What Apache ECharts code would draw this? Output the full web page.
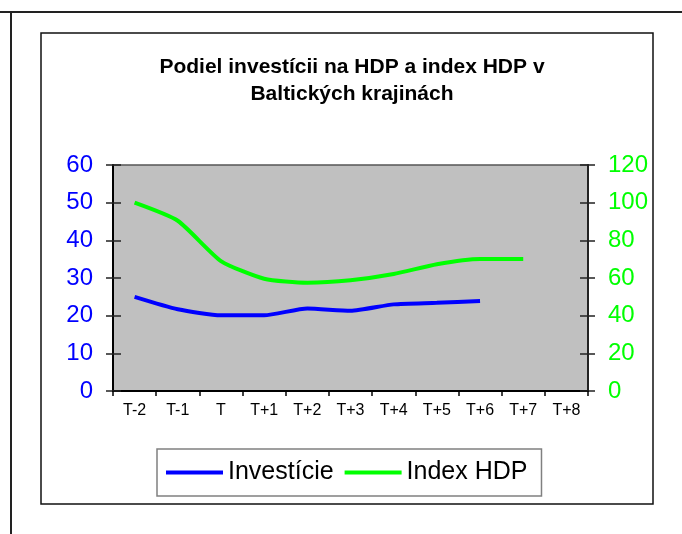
<!DOCTYPE html>
<html>
<head>
<meta charset="utf-8">
<script src="https://cdn.jsdelivr.net/npm/echarts@6/dist/echarts.min.js"></script>
<style>
  html, body { margin: 0; padding: 0; background: #fff; }
  #chart { width: 682px; height: 534px; }
</style>
</head>
<body>
<div id="chart"></div>
<script>
// hodnoty odčítané z grafu
const categories = ["T-2", "T-1", "T", "T+1", "T+2", "T+3", "T+4", "T+5", "T+6", "T+7", "T+8"];
const investicie = [25, 21.7, 20.1, 20.1, 21.9, 21.3, 23, 23.4, 23.9, null, null];
const indexHdp = [100, 90.4, 69, 59.6, 57.5, 58.8, 62.1, 67.3, 70.1, 70.1, null];
const leftTicks = { min: 0, max: 60, interval: 10 };
const rightTicks = { min: 0, max: 120, interval: 20 };

const font = "Liberation Sans, Arial, sans-serif";
const gridRect = { left: 113, right: 94, top: 165, bottom: 143 };

const myChart = echarts.init(document.getElementById("chart"));

// os bez popisov, len krátke čiarky dovnútra (Excel "cross" ticks)
function innerAxis(pos, ticks) {
  return {
    type: "value",
    gridIndex: 1,
    position: pos,
    ...ticks,
    axisLine: { show: false },
    axisLabel: { show: false },
    splitLine: { show: false },
    axisTick: { show: true, inside: true, length: 8, lineStyle: { color: "#222", width: 1.5 } }
  };
}

const option = {
  backgroundColor: "#fff",
  animation: false,
  title: {
    text: "Podiel investícii na HDP a index HDP v\nBaltických krajinách",
    left: 347,
    top: 49,
    textAlign: "center",
    textStyle: {
      fontFamily: font,
      fontWeight: "bold",
      fontSize: 21,
      lineHeight: 27,
      color: "#000"
    }
  },
  legend: {
    left: 157,
    top: 449,
    padding: [11, 14, 11, 9],
    borderColor: "#808080",
    borderWidth: 1.5,
    backgroundColor: "#fff",
    itemWidth: 57,
    itemHeight: 4,
    itemGap: 11,
    icon: "rect",
    textStyle: { fontFamily: font, fontSize: 25, color: "#000" },
    data: ["Investície", "Index HDP"]
  },
  grid: [
    { ...gridRect, show: true, backgroundColor: "#c0c0c0", borderColor: "#555", borderWidth: 1.5 },
    { ...gridRect, show: false }
  ],
  xAxis: [
    {
      type: "category",
      data: categories,
      boundaryGap: true,
      axisLine: { lineStyle: { color: "#000", width: 2 } },
      axisTick: { show: true, length: 5, lineStyle: { color: "#000", width: 1.5 } },
      axisLabel: { interval: 0, margin: 12, fontFamily: font, fontSize: 16, color: "#000" }
    },
    { type: "category", gridIndex: 1, data: categories, show: false }
  ],
  yAxis: [
    {
      type: "value",
      position: "left",
      ...leftTicks,
      axisLine: { show: true, lineStyle: { color: "#000", width: 2 } },
      axisTick: { show: true, length: 7, lineStyle: { color: "#222", width: 1.5 } },
      splitLine: { show: false },
      axisLabel: { margin: 20, fontFamily: font, fontSize: 24, color: "#0000ff" }
    },
    {
      type: "value",
      position: "right",
      ...rightTicks,
      axisLine: { show: true, lineStyle: { color: "#222", width: 2 } },
      axisTick: { show: true, length: 7, lineStyle: { color: "#222", width: 1.5 } },
      splitLine: { show: false },
      axisLabel: { margin: 20, fontFamily: font, fontSize: 24, color: "#00ff00" }
    },
    innerAxis("left", leftTicks),
    innerAxis("right", rightTicks)
  ],
  series: [
    {
      name: "Investície",
      type: "line",
      yAxisIndex: 0,
      data: investicie,
      smooth: 0.2,
      showSymbol: false,
      color: "#0000ff",
      lineStyle: { width: 4, color: "#0000ff" }
    },
    {
      name: "Index HDP",
      type: "line",
      yAxisIndex: 1,
      data: indexHdp,
      smooth: 0.2,
      showSymbol: false,
      color: "#00ff00",
      lineStyle: { width: 4, color: "#00ff00" }
    }
  ],
  graphic: [
    // vonkajší rám (bunky hárku)
    { type: "line", shape: { x1: 0, y1: 12, x2: 682, y2: 12 }, style: { stroke: "#222", lineWidth: 2 } },
    { type: "line", shape: { x1: 11, y1: 12, x2: 11, y2: 534 }, style: { stroke: "#222", lineWidth: 2 } },
    // rám grafu
    { type: "rect", shape: { x: 41, y: 33, width: 612, height: 471 }, style: { fill: null, stroke: "#111", lineWidth: 1.5 }, z: -1 }
  ]
};

myChart.setOption(option);
</script>
</body>
</html>
